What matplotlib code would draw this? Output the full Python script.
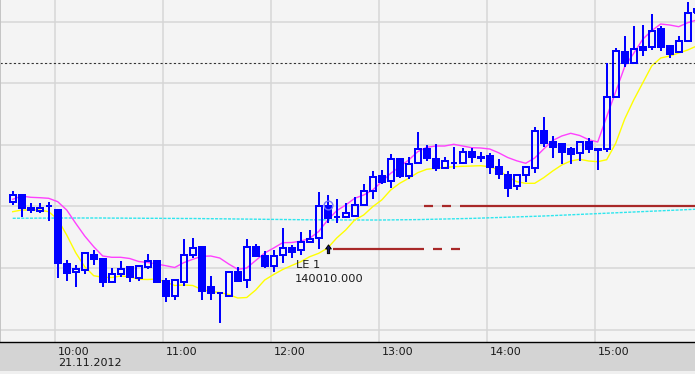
import matplotlib
matplotlib.use('Agg')
import matplotlib.pyplot as plt
import matplotlib.transforms as mtransforms
from matplotlib.path import Path
from matplotlib.patches import Rectangle
import numpy as np

# ---------------- data (5-minute bars, 21.11.2012) ----------------
opens = [140056.7, 140064.0, 140051.5, 140048.3, 140053.0, 140049.0, 139994.7, 139986.7, 139989.0, 140003.7,
         140000.0, 139976.7, 139984.7, 139991.7, 139981.3, 139992.3, 139998.0, 139978.0, 139963.3, 139977.3,
         140003.7, 140012.0, 139972.0, 139966.0, 139963.3, 139986.7, 139979.0, 140011.7, 140003.3, 139993.0,
         140004.0, 140010.7, 140009.0, 140016.7, 140020.7, 140053.0, 140042.0, 140042.3, 140043.5, 140054.5,
         140068.3, 140083.5, 140078.3, 140099.8, 140083.5, 140095.7, 140109.8, 140099.8, 140090.7, 140095.8,
         140095.7, 140107.3, 140101.3, 140103.0, 140091.7, 140083.8, 140073.0, 140083.8, 140090.7, 140128.5,
         140116.7, 140114.7, 140110.0, 140105.8, 140116.7, 140109.5, 140109.7, 140162.3, 140206.7, 140196.3,
         140211.7, 140211.7, 140230.0, 140213.0, 140207.3, 140218.3, 140246.5]
highs = [140068.3, 140064.0, 140055.7, 140055.7, 140057.3, 140049.0, 139999.0, 139994.0, 140006.0, 140009.0,
         140000.0, 139990.7, 139998.0, 139991.7, 139993.0, 140005.0, 139998.0, 139980.7, 139978.7, 140020.0,
         140021.3, 140012.0, 139983.0, 139967.5, 139986.7, 139991.7, 140020.0, 140014.7, 140008.0, 140009.0,
         140031.3, 140014.0, 140027.3, 140029.0, 140067.3, 140064.0, 140060.0, 140056.5, 140062.0, 140075.0,
         140088.5, 140089.5, 140105.0, 140099.8, 140101.7, 140127.0, 140114.5, 140114.7, 140101.7, 140112.0,
         140111.5, 140111.0, 140106.7, 140106.0, 140100.0, 140088.0, 140083.8, 140091.7, 140132.3, 140142.5,
         140123.0, 140114.7, 140112.3, 140116.7, 140121.0, 140109.8, 140196.3, 140210.7, 140223.3, 140233.0,
         140234.0, 140245.0, 140233.0, 140213.0, 140223.0, 140257.0, 140254.0]
lows = [140054.0, 140042.3, 140046.3, 140046.3, 140038.3, 139981.3, 139978.3, 139971.7, 139985.0, 139994.0,
        139972.3, 139975.7, 139982.3, 139977.3, 139978.0, 139989.7, 139977.3, 139957.3, 139959.0, 139973.0,
        140000.7, 139959.0, 139959.0, 139936.0, 139963.3, 139978.3, 139970.7, 140003.3, 139991.3, 139987.3,
        139995.7, 140000.7, 140004.0, 140015.7, 140009.7, 140035.7, 140035.7, 140041.7, 140043.5, 140054.5,
        140060.0, 140075.0, 140070.7, 140081.0, 140080.0, 140095.7, 140098.3, 140088.5, 140090.7, 140090.0,
        140095.7, 140096.5, 140096.7, 140085.5, 140080.5, 140062.5, 140069.5, 140077.5, 140085.7, 140111.7,
        140101.5, 140095.5, 140095.0, 140098.3, 140105.7, 140089.3, 140107.3, 140162.3, 140192.3, 140196.3,
        140203.0, 140209.0, 140208.3, 140200.7, 140207.3, 140218.3, 140245.0]
closes = [140064.0, 140050.7, 140049.5, 140051.3, 140053.5, 139995.7, 139986.3, 139989.7, 140005.7, 140000.3,
          139977.3, 139984.7, 139990.0, 139982.3, 139993.0, 139998.0, 139977.3, 139963.3, 139978.7, 140003.7,
          140010.7, 139968.0, 139966.3, 139966.5, 139986.7, 139978.3, 140011.7, 140003.3, 139993.0, 140003.3,
          140010.7, 140007.3, 140016.7, 140019.7, 140053.0, 140041.3, 140042.5, 140045.7, 140053.7, 140068.3,
          140082.3, 140077.5, 140099.7, 140083.3, 140094.7, 140109.8, 140100.7, 140090.7, 140098.3, 140096.2,
          140106.7, 140101.7, 140101.7, 140091.7, 140084.7, 140070.7, 140083.8, 140091.7, 140128.5, 140115.7,
          140112.5, 140107.3, 140105.5, 140116.7, 140109.7, 140109.8, 140162.3, 140208.0, 140195.7, 140209.7,
          140209.0, 140227.7, 140211.7, 140205.0, 140218.0, 140245.7, 140250.5]

ma_fast = [140059.7, 140063.0, 140061.7, 140061.3, 140060.7, 140057.3, 140049.0, 140035.7, 140023.0, 140012.3,
           140003.0, 140001.7, 140001.7, 140000.5, 139997.5, 139996.5, 139995.0, 139993.3, 139991.5, 139996.3,
           139999.7, 140002.7, 140003.0, 140001.0, 139995.0, 139989.7, 139991.0, 139998.5, 140006.0, 140011.0,
           140016.3, 140016.5, 140017.8, 140020.7, 140027.5, 140039.0, 140048.3, 140054.0, 140060.7, 140064.0,
           140069.0, 140077.3, 140085.7, 140092.3, 140099.0, 140107.3, 140111.7, 140113.0, 140113.0, 140114.7,
           140113.0, 140111.3, 140111.0, 140110.0, 140106.2, 140101.5, 140098.2, 140095.7, 140101.0, 140110.0,
           140118.5, 140123.0, 140125.7, 140123.5, 140119.3, 140117.0, 140142.3, 140167.3, 140192.3, 140205.7,
           140219.7, 140228.3, 140235.0, 140234.0, 140232.3, 140236.3, 140239.0]
ma_slow = [140047.3, 140049.0, 140049.0, 140049.0, 140047.3, 140039.7, 140024.0, 140006.3, 139992.3, 139983.3,
           139981.7, 139981.5, 139983.0, 139982.3, 139979.7, 139979.5, 139980.0, 139977.0, 139973.5, 139974.0,
           139973.5, 139969.5, 139967.5, 139966.5, 139964.5, 139961.0, 139961.5, 139969.0, 139979.0, 139984.5,
           139989.5, 139993.5, 139997.3, 140002.3, 140005.7, 140011.0, 140021.0, 140029.0, 140039.0, 140044.0,
           140052.3, 140059.0, 140069.0, 140075.7, 140080.7, 140086.3, 140089.7, 140090.7, 140091.5, 140092.3,
           140092.7, 140093.0, 140093.3, 140092.3, 140089.0, 140082.3, 140077.3, 140075.7, 140075.7, 140081.3,
           140088.0, 140094.0, 140098.0, 140099.7, 140098.0, 140097.3, 140099.3, 140115.7, 140140.0, 140159.0,
           140176.0, 140193.0, 140201.0, 140203.0, 140206.0, 140209.0, 140213.0]
ma_long = [140040.7, 140040.8, 140040.8, 140040.9, 140040.9, 140041.0, 140041.0, 140041.0, 140041.0, 140041.0,
           140041.0, 140040.9, 140040.9, 140040.8, 140040.8, 140040.7, 140040.7, 140040.6, 140040.6, 140040.5,
           140040.5, 140040.4, 140040.3, 140040.2, 140040.1, 140040.0, 140039.9, 140039.8, 140039.7, 140039.6,
           140039.5, 140039.4, 140039.3, 140039.2, 140039.2, 140039.1, 140039.1, 140039.0, 140039.0, 140039.0,
           140039.0, 140039.0, 140039.1, 140039.2, 140039.3, 140039.4, 140039.6, 140039.8, 140040.0, 140040.2,
           140040.4, 140040.6, 140040.9, 140041.2, 140041.5, 140041.8, 140042.1, 140042.4, 140042.7, 140043.0,
           140043.4, 140043.8, 140044.2, 140044.6, 140045.0, 140045.4, 140045.8, 140046.2, 140046.6, 140047.0,
           140047.4, 140047.8, 140048.2, 140048.6, 140049.0, 140049.4, 140049.8]

ref_level = 140195.7          # dark dotted horizontal level
hour_labels = ['10:00', '11:00', '12:00', '13:00', '14:00', '15:00']
date_label = '21.11.2012'
first_hour_bar = 5            # bar index of the 10:00 bar
bars_per_hour = 12
entry_bar = 35
entry_price = 140010.0
entry_text = 'LE 1'
entry_price_text = '140010.000'
target_level = 140053.0
signal_price = 140054.0
dash_start_bar = 46
dash_end_bar = 50

# ---------------- figure ----------------
W, H = 695, 374
fig = plt.figure(figsize=(W / 100, H / 100), dpi=100, facecolor='#d4d4d4')
fig.patches.append(Rectangle((0, 0), 1, 3 / H, transform=fig.transFigure,
                             facecolor='#f0f0f0', edgecolor='none'))
ax = fig.add_axes([0, 32 / H, 1, 342 / H])
bg = '#f4f4f4'
ax.set_facecolor(bg)

n = len(opens)
idx = np.arange(n)
o = np.array(opens); h = np.array(highs); l = np.array(lows); c = np.array(closes)

x_left = -12.7 / 9
x_right = (W - 12.7) / 9
ax.set_xlim(x_left, x_right)
ax.set_ylim(139917, 140259)

# grid
grid_levels = 139929.4 + 61.6 * np.arange(6)
for g in grid_levels:
    ax.axhline(g, color='#d6d6d6', lw=1.1, zorder=0)
hour_pos = [first_hour_bar - 0.3 + bars_per_hour * i for i in range(len(hour_labels))]
for xp in hour_pos:
    ax.axvline(xp, color='#d6d6d6', lw=1.1, zorder=0)

# indicator lines
ax.plot(idx, ma_long, color='#2ee6ee', lw=1.0, ls=(0, (2.2, 0.9)), zorder=1)
ax.plot(idx, ma_slow, color='#ffff00', lw=1.0, zorder=2)
ax.plot(idx, ma_fast, color='#ff40ff', lw=1.0, zorder=2)
ax.axhline(ref_level, color='#333333', lw=0.8, ls=(0, (2, 2)), zorder=2)

# candles
blue = '#0000ff'
top = np.maximum(o, c); bot = np.minimum(o, c)
ax.vlines(idx, top, h, color=blue, lw=1.1, zorder=3, antialiased=False)
ax.vlines(idx, l, bot, color=blue, lw=1.1, zorder=3, antialiased=False)
up = c >= o
body_h = np.maximum(top - bot, 0.3)
ax.bar(idx[~up], body_h[~up], bottom=bot[~up], width=0.68, facecolor=blue,
       edgecolor=blue, lw=1.3, zorder=4, antialiased=False)
ax.bar(idx[up], body_h[up], bottom=bot[up], width=0.68, facecolor='none',
       edgecolor=blue, lw=1.3, zorder=4, antialiased=False)

# strategy lines
red = '#a82828'
ax.hlines(entry_price, entry_bar + 0.6, dash_start_bar - 0.3, color=red, lw=1.6, zorder=5)
for j in range(dash_start_bar, dash_end_bar):
    lvl = target_level if (j - dash_start_bar) % 2 == 0 else entry_price
    ax.hlines(lvl, j - 0.3, j + 0.7, color=red, lw=1.6, zorder=5)
ax.hlines(target_level, dash_end_bar - 0.3, x_right, color=red, lw=1.6, zorder=5)

# entry arrow and signal circle
arrow = Path([(0, 1), (0.62, 0.12), (0.24, 0.12), (0.24, -0.9), (-0.24, -0.9),
              (-0.24, 0.12), (-0.62, 0.12), (0, 1)],
             [Path.MOVETO] + [Path.LINETO] * 6 + [Path.CLOSEPOLY])
ax.plot([entry_bar], [entry_price], marker=arrow, ms=6.6, mfc='#12126e', mec='#000000',
        mew=0.7, zorder=7)
ax.plot([entry_bar], [signal_price], marker='o', ms=6.3, mfc='none', mec='#7272ff',
        mew=1.0, zorder=7)
ax.annotate(entry_text, (entry_bar, entry_price), xytext=(-31.5, -19),
            textcoords='offset pixels', fontsize=8.2, color='#1a1a1a',
            ha='left', va='baseline', zorder=8)
ax.annotate(entry_price_text, (entry_bar, entry_price), xytext=(-32.5, -33),
            textcoords='offset pixels', fontsize=8.2, color='#1a1a1a',
            ha='left', va='baseline', zorder=8)

# axes decoration
for s in ['top', 'right']:
    ax.spines[s].set_visible(False)
ax.spines['left'].set_color('#c4c4c4'); ax.spines['left'].set_linewidth(1.4)
ax.spines['bottom'].set_color('#000000'); ax.spines['bottom'].set_linewidth(1.0)
ax.set_yticks([])
labels = [hour_labels[0] + '\n' + date_label] + hour_labels[1:]
ax.set_xticks(hour_pos)
ax.set_xticklabels(labels, fontsize=8, color='#1a1a1a', linespacing=1.2)
ax.tick_params(axis='x', length=0, pad=3.5)
offset = mtransforms.ScaledTranslation(3 / 100, 0, fig.dpi_scale_trans)
for lab in ax.get_xticklabels():
    lab.set_horizontalalignment('left')
    lab.set_verticalalignment('top')
    lab.set_transform(lab.get_transform() + offset)

fig.savefig('out.png', dpi=100, facecolor=fig.get_facecolor())
